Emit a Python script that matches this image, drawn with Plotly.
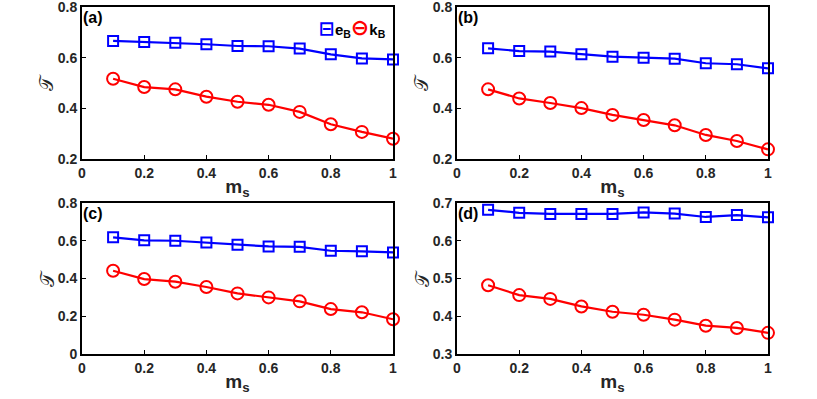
import plotly.graph_objects as go
from plotly.subplots import make_subplots

ms = [0.1, 0.2, 0.3, 0.4, 0.5, 0.6, 0.7, 0.8, 0.9, 1.0]

eB_a = [0.666, 0.662, 0.659, 0.653, 0.646, 0.645, 0.636, 0.613, 0.597, 0.593]
kB_a = [0.517, 0.484, 0.475, 0.446, 0.426, 0.414, 0.386, 0.337, 0.307, 0.280]
eB_b = [0.637, 0.626, 0.624, 0.613, 0.604, 0.600, 0.596, 0.578, 0.574, 0.558]
kB_b = [0.475, 0.439, 0.421, 0.401, 0.374, 0.354, 0.333, 0.295, 0.271, 0.238]
eB_c = [0.618, 0.602, 0.600, 0.591, 0.579, 0.570, 0.568, 0.547, 0.544, 0.538]
kB_c = [0.441, 0.397, 0.383, 0.355, 0.321, 0.300, 0.279, 0.238, 0.221, 0.184]
eB_d = [0.682, 0.674, 0.671, 0.671, 0.671, 0.675, 0.672, 0.663, 0.668, 0.662]
kB_d = [0.482, 0.456, 0.446, 0.426, 0.412, 0.404, 0.391, 0.375, 0.369, 0.356]

xticks = [0, 0.2, 0.4, 0.6, 0.8, 1]
xlabels = ["0", "0.2", "0.4", "0.6", "0.8", "1"]
yticks_ab = [0.2, 0.4, 0.6, 0.8]
ylabels_ab = ["0.2", "0.4", "0.6", "0.8"]
yticks_c = [0, 0.2, 0.4, 0.6, 0.8]
ylabels_c = ["0", "0.2", "0.4", "0.6", "0.8"]
yticks_d = [0.3, 0.4, 0.5, 0.6, 0.7]
ylabels_d = ["0.3", "0.4", "0.5", "0.6", "0.7"]

panels = [("(a)", eB_a, kB_a, [0.2, 0.8], yticks_ab, ylabels_ab),
          ("(b)", eB_b, kB_b, [0.2, 0.8], yticks_ab, ylabels_ab),
          ("(c)", eB_c, kB_c, [0, 0.8], yticks_c, ylabels_c),
          ("(d)", eB_d, kB_d, [0.3, 0.7], yticks_d, ylabels_d)]

W, H = 817, 399
xdom = [[82 / W, 393 / W], [457 / W, 768 / W]]
ydom = [[1 - 159 / H, 1 - 7 / H], [1 - 354 / H, 1 - 203 / H]]

fig = make_subplots(rows=2, cols=2)
font = dict(family="Liberation Sans, Arial", size=14, color="#262626", weight="bold")

for i, (lab, eb, kb, yr, yt, yl) in enumerate(panels):
    r, c = i // 2 + 1, i % 2 + 1
    fig.add_trace(go.Scatter(x=ms, y=eb, mode="lines+markers", name="e<sub>B</sub>",
                             line=dict(color="#0000FF", width=2.2),
                             marker=dict(symbol="square-open", size=10, color="#0000FF",
                                         line=dict(width=2)),
                             cliponaxis=False, showlegend=False), row=r, col=c)
    fig.add_trace(go.Scatter(x=ms, y=kb, mode="lines+markers", name="k<sub>B</sub>",
                             line=dict(color="#FF0000", width=2.2),
                             marker=dict(symbol="circle-open", size=12, color="#FF0000",
                                         line=dict(width=2)),
                             cliponaxis=False, showlegend=False), row=r, col=c)
    fig.update_xaxes(range=[0, 1], tickvals=xticks, ticktext=xlabels, automargin=False,
                     domain=xdom[c - 1], showline=True, mirror=True, linecolor="black",
                     linewidth=2, ticks="inside", ticklen=4, tickcolor="black",
                     showgrid=False, zeroline=False, tickfont=font,
                     ticklabeloverflow="allow",
                     title=dict(text="m<sub>s</sub>", font=dict(family="Liberation Sans, Arial",
                                size=19, color="#262626", weight="bold"), standoff=0),
                     row=r, col=c)
    fig.update_yaxes(range=yr, tickvals=yt, ticktext=yl, domain=ydom[r - 1], automargin=False,
                     showline=True, mirror=True,
                     linecolor="black", linewidth=2, ticks="inside", ticklen=4,
                     tickcolor="black", showgrid=False, zeroline=False, tickfont=font,
                     ticklabeloverflow="allow",
                     row=r, col=c)
    xref = "x domain" if i == 0 else "x%d domain" % (i + 1)
    yref = "y domain" if i == 0 else "y%d domain" % (i + 1)
    fig.add_annotation(text=lab, xref=xref, yref=yref, x=0.0, y=1.0, xanchor="left",
                       yanchor="top", showarrow=False, xshift=-1, yshift=0,
                       font=dict(family="Liberation Sans, Arial", size=16, color="black",
                                 weight="bold"))
    # y-axis title (rotated calligraphic T)
    fig.add_annotation(text="𝒯", xref=xref, yref=yref, x=0.0, y=0.5, xanchor="center",
                       yanchor="middle", showarrow=False, xshift=-36, textangle=-90,
                       font=dict(family="DejaVu Sans", size=19, color="#262626"))

# compact legend like the original (marker with line through it)
legend_text = ("<span style='color:#0000FF;font-family:DejaVu Sans;font-size:19px;font-weight:bold'>⊟</span>"
               "e<sub>B</sub>"
               "<span style='color:#FF0000;font-family:DejaVu Sans;font-size:22px;font-weight:bold'>⊖</span>"
               "k<sub>B</sub>")
fig.add_annotation(text=legend_text, xref="paper", yref="paper", x=388 / W, y=1 - 27 / H,
                   xanchor="right", yanchor="middle", showarrow=False,
                   font=dict(family="Liberation Sans, Arial", size=15, color="black",
                             weight="bold"))

fig.update_layout(width=W, height=H, margin=dict(l=0, r=0, t=0, b=0),
                  plot_bgcolor="white", paper_bgcolor="white", showlegend=False)

fig.write_html("out.html", config={"displayModeBar": False},
               post_script="document.body.style.margin='0';")
